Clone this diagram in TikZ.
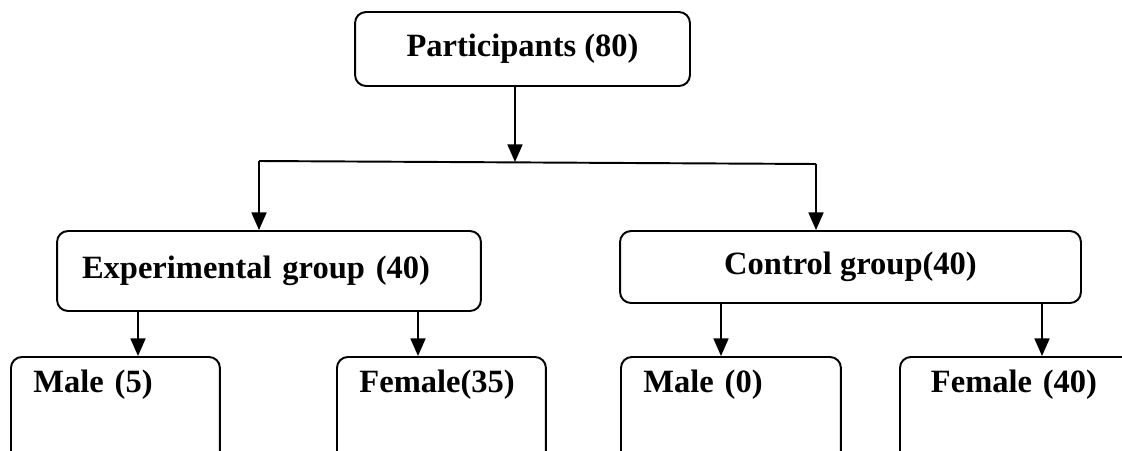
\documentclass[tikz,border=0pt]{standalone}
\usepackage{fontspec}
\setmainfont{Liberation Serif}
\usetikzlibrary{arrows.meta}

\tikzset{
  box/.style={draw, line width=1.1pt, rounded corners=0.22cm,
    font=\fontsize{18.5}{22}\selectfont\bfseries},
  leaf/.style={box, anchor=north west, align=left, text width=#1,
    inner xsep=0.45cm, inner ysep=0pt, text height=0.72cm, text depth=1.7cm},
  arr/.style={-{Triangle[length=10pt,width=8.5pt]}, line width=1.1pt}
}

\begin{document}
\begin{tikzpicture}[x=0.02cm, y=-0.02cm]
    \useasboundingbox (0,0) rectangle (1122,450);

    % 全体
    \node[box, minimum width=6.7cm, minimum height=1.48cm] (part) at (522.5,49) {Participants (80)};

    % 分岐の線
    \coordinate (split) at (515,162);
    \coordinate (lt) at (259,161);
    \coordinate (rt) at (816,164);
    \draw[arr] (part.south -| split) -- (split);
    \draw[line width=1.1pt] (lt) -- (rt);

    % 二つのグループ
    \node[box, align=left, text width=7.48cm, inner xsep=0.5cm, minimum height=1.6cm] (exp) at (269,271) {Experimental group (40)};
    \node[box, minimum width=9.22cm, minimum height=1.44cm] (ctl) at (850.5,267) {Control group(40)};
    \draw[arr] (lt) -- (lt |- exp.north);
    \draw[arr] (rt) -- (rt |- ctl.north);

    % 男女の内訳
    \node[leaf=3.28cm] (m5) at (10,356) {Male (5)};
    \node[leaf=3.28cm] (f35) at (336,356) {Female(35)};
    \node[leaf=3.5cm] (m0) at (620,356) {Male (0)};
    \node[leaf=3.56cm, inner xsep=0.62cm] (f40) at (899,356) {Female (40)};

    % 下の矢印
    \coordinate (a1) at (138,0);
    \coordinate (a2) at (418,0);
    \coordinate (a3) at (721,0);
    \coordinate (a4) at (1042,0);
    \draw[arr] (exp.south -| a1) -- (m5.north -| a1);
    \draw[arr] (exp.south -| a2) -- (f35.north -| a2);
    \draw[arr] (ctl.south -| a3) -- (m0.north -| a3);
    \draw[arr] (ctl.south -| a4) -- (f40.north -| a4);
\end{tikzpicture}
\end{document}
